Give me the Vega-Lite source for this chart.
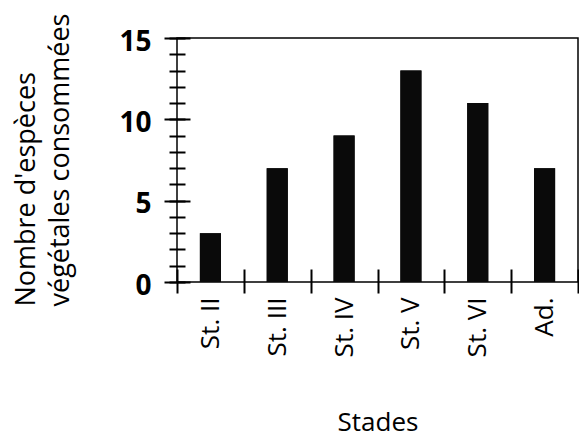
{
  "$schema": "https://vega.github.io/schema/vega-lite/v6.json",
  "autosize": "none",
  "width": 401,
  "height": 244,
  "padding": {"left": 177, "top": 38, "right": 1, "bottom": 157},
  "background": "white",
  "config": {
    "view": {"stroke": "black", "strokeWidth": 1.5},
    "axis": {"domain": false, "grid": false, "tickColor": "black", "labelColor": "black", "titleColor": "black"}
  },
  "data": {
    "values": [
      {"stade": "St. II", "n": 3},
      {"stade": "St. III", "n": 7},
      {"stade": "St. IV", "n": 9},
      {"stade": "St. V", "n": 13},
      {"stade": "St. VI", "n": 11},
      {"stade": "Ad.", "n": 7}
    ]
  },
  "encoding": {
    "x": {
      "field": "stade",
      "type": "nominal",
      "sort": null,
      "scale": {"paddingInner": 0, "paddingOuter": 0},
      "axis": {
        "title": "Stades",
        "titleFont": "Open Sans",
        "titleFontSize": 26,
        "titleFontWeight": "normal",
        "titleBaseline": "alphabetic",
        "titleY": 161,
        "labelAngle": -90,
        "labelFont": "Open Sans",
        "labelFontSize": 26,
        "labelPadding": 4,
        "tickBand": "extent",
        "offset": -13,
        "tickSize": 24,
        "tickWidth": 2
      }
    }
  },
  "layer": [
    {
      "mark": {"type": "bar", "color": "#0a0a0a", "width": {"band": 0.315}},
      "encoding": {
        "y": {
          "field": "n",
          "type": "quantitative",
          "scale": {"domain": [0, 15], "nice": false},
          "axis": {
            "orient": "left",
            "values": [0, 5, 10, 15],
            "offset": -13,
            "tickSize": 26,
            "tickWidth": 2,
            "labelFont": "Open Sans",
            "labelFontSize": 28,
            "labelFontWeight": "bold",
            "labelPadding": 13,
            "labelOffset": 4,
            "title": ["Nombre d'espèces", "végétales consommées"],
            "titleFont": "Open Sans",
            "titleFontSize": 27,
            "titleFontWeight": "normal",
            "titleLineHeight": 34,
            "titleAlign": "left",
            "titleBaseline": "alphabetic",
            "titleAngle": -90,
            "titleX": -156,
            "titleY": 268
          }
        }
      }
    },
    {
      "mark": {"type": "bar", "color": "#0a0a0a", "width": {"band": 0.315}},
      "encoding": {
        "y": {
          "field": "n",
          "type": "quantitative",
          "axis": {
            "orient": "left",
            "values": [0, 1, 2, 3, 4, 5, 6, 7, 8, 9, 10, 11, 12, 13, 14, 15],
            "offset": -8,
            "tickSize": 16,
            "tickWidth": 2,
            "labels": false,
            "title": null
          }
        }
      }
    }
  ],
  "resolve": {"axis": {"y": "independent"}, "scale": {"y": "shared"}}
}
